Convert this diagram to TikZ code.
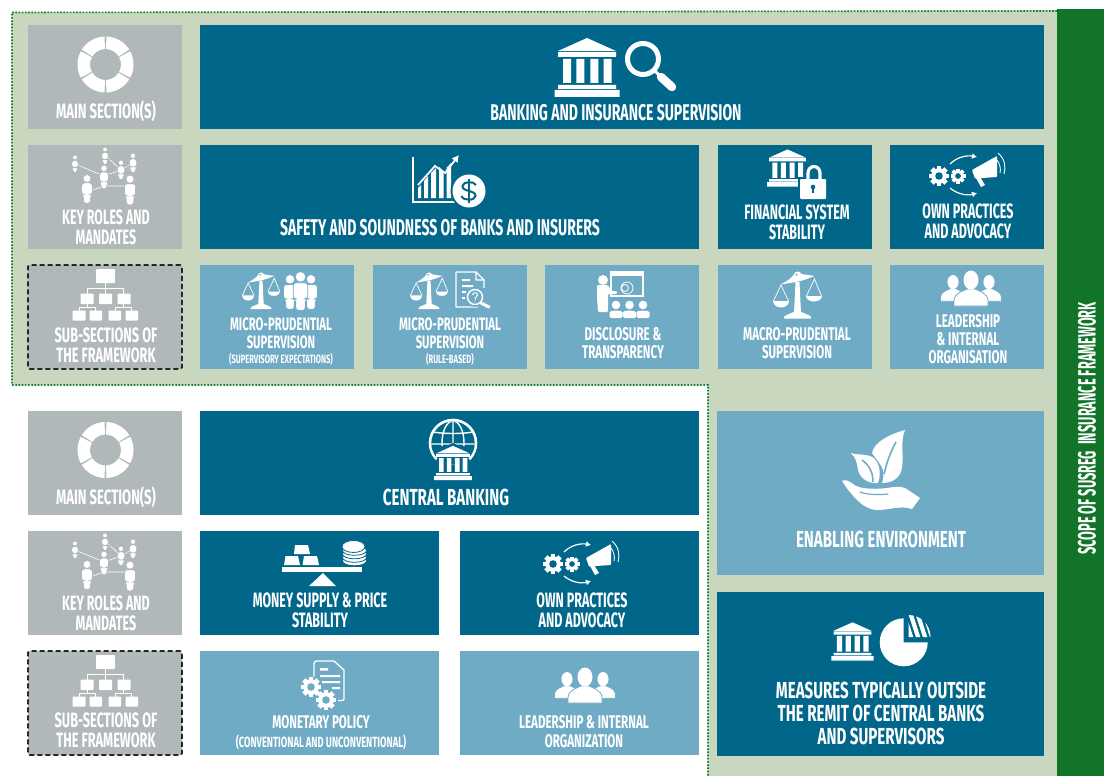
\documentclass[tikz,border=0pt]{standalone}
\usepackage{fontspec}
\usetikzlibrary{arrows.meta}
\newfontfamily\lf[FakeStretch=0.63]{Fira Sans}
\newfontfamily\lfa[FakeStretch=0.615]{Fira Sans}
\newfontfamily\lfb[FakeStretch=0.6]{Fira Sans}
\newfontfamily\lfc[FakeStretch=0.65]{Fira Sans}
\newfontfamily\lfn[FakeStretch=0.51]{Fira Sans}
\definecolor{dk}{HTML}{00678B}
\definecolor{lt}{HTML}{70ABC6}
\definecolor{gy}{HTML}{B1B8BA}
\definecolor{bgg}{HTML}{C9D7BF}
\definecolor{barg}{HTML}{117428}
\definecolor{dotg}{HTML}{128033}
\colorlet{bgc}{lt}
\tikzset{
  boxdk/.style={fill=dk,inner sep=0pt,outer sep=0pt},
  boxlt/.style={fill=lt,inner sep=0pt,outer sep=0pt},
  boxgy/.style={fill=gy,inner sep=0pt,outer sep=0pt},
  boxds/.style={fill=gy,draw=black!85,dash pattern=on 5pt off 3pt,line width=1.6pt,rounded corners=1.5pt,inner sep=0pt,outer sep=0pt},
  lbl/.style={text=white,align=center,inner sep=0pt,anchor=base},
  halo/.style={fill=white,draw=bgc,line width=.8pt},
}
\newcommand\bx[6]{\node[#1,minimum width={(#5-#3)*1pt},minimum height={(#6-#4)*1pt}] (#2) at ({(#3+#5)/2},{(#4+#6)/2}) {};}
\newcommand\lbl[7][\lf]{\node[lbl,font=#1\bfseries\fontsize{#5}{#6}\selectfont] (#2) at (#3,#4) {#7};}
\newcommand\icon[5]{\begin{scope}[shift={(#1,#2)},scale=#3]\colorlet{bgc}{#4}#5\end{scope}}
% ---- icon parts
\newcommand\icring{\foreach \a in {0,60,...,300}{\fill[white] (\a+32:28) arc[start angle=\a+32,end angle=\a+88,radius=28] -- (\a+88:15.5) arc[start angle=\a+88,end angle=\a+32,radius=15.5] -- cycle;}}
\newcommand\person[3]{\begin{scope}[shift={(#1,#2)},scale=#3/40]
  \path[halo] (0,-14.5) circle[radius=5.5];
  \path[halo,rounded corners=3pt] (-7.5,-8.5) -- (7.5,-8.5) -- (7.5,8) -- (5,8) -- (5,20) -- (-5,20) -- (-5,8) -- (-7.5,8) -- cycle;
\end{scope}}
\newcommand\icnet{\draw[white,line width=.6pt] (-30,-14) -- (-1,-2) (0,-23) -- (16,-8) -- (28,-15) (-1,-2) -- (16,-8) (-18,14) -- (-1,8) -- (25,8);
  \person{-30}{-14}{18}\person{0}{-22}{18}\person{28}{-15}{20}\person{16}{-8}{20}\person{-1}{-1}{24}\person{-18}{11}{29}\person{25}{12}{30}}
\newcommand\icorg{\draw[white,line width=.6pt] (0,-13) -- (0,-8) (-18,-8) -- (18,-8) (-18,-8) -- (-18,-2) (0,-8) -- (0,-2) (18,-8) -- (18,-2)
   (-18,8) -- (-18,11) (-26,11) -- (-10,11) (-26,11) -- (-26,15) (-10,11) -- (-10,15) (18,8) -- (18,11) (10,11) -- (26,11) (10,11) -- (10,15) (26,11) -- (26,15);
  \fill[white,rounded corners=.8pt] (-9.5,-27) rectangle (9.5,-13)
   (-25,-2.5) rectangle (-12,8) (-6.5,-2.5) rectangle (6.5,8) (12,-2.5) rectangle (25,8)
   (-33,14.5) rectangle (-20,24.5) (-16,14.5) rectangle (-3.5,24.5) (3,14.5) rectangle (15.5,24.5) (20,14.5) rectangle (32.5,24.5);}
\newcommand\icscale{\fill[white] (-2,-12) -- (2,-12) -- (3.5,19) -- (-3.5,19) -- cycle;
  \fill[white,rounded corners=1pt] (-4,18) -- (4,18) -- (13,22) -- (14,24.5) -- (-14,24.5) -- (-13,22) -- cycle;
  \fill[white] (-17,-9.5) .. controls (-10,-13) and (-6,-16) .. (-4,-19) .. controls (-2,-24) and (2,-23) .. (4,-20) -- (17,-18) .. controls (10,-15) and (4,-13) .. (-2,-12) .. controls (-8,-11) and (-12,-10) .. cycle;
  \fill[bgc] (-1,-19.5) circle[radius=1.2];
  \draw[white,line width=.7pt] (-24,7) -- (-16.5,-9) -- (-9,7) (9,2) -- (17,-15) -- (24,2);
  \fill[white] (-24.5,7) arc[start angle=180,end angle=0,x radius=8,y radius=6.5] -- cycle;
  \fill[white] (8.5,2) arc[start angle=180,end angle=0,x radius=8,y radius=5.5] -- cycle;}
\newcommand\icbank{\fill[white] (-29,-16.5) -- (0,-29.5) -- (29,-16.5) -- cycle;
  \fill[white] (-29,-15.5) rectangle (29,-10.5)
   (-24,-8.5) rectangle (-16,15.5) (-10.7,-8.5) rectangle (-2.7,15.5) (3.3,-8.5) rectangle (11.3,15.5) (16.7,-8.5) rectangle (24.7,15.5)
   (-29,17.5) rectangle (29,21.5) (-32.5,22.5) rectangle (32.5,29.5);}
\newcommand\gear[3]{\begin{scope}[shift={(#1,#2)},scale=#3/10]
  \foreach \a in {0,45,90,135}{\fill[white,rotate=\a] (-2.4,-10) rectangle (2.4,10);}
  \fill[white] (0,0) circle[radius=7.8]; \fill[bgc] (0,0) circle[radius=3.8];\end{scope}}
\newcommand\icown{\gear{-28}{1}{10}\gear{-9}{1}{7.5}
  \draw[white,line width=1.2pt,-{Latex[length=5pt,width=6pt]}] (-17,-11) .. controls (-10,-18) and (0,-20) .. (10,-18);
  \draw[white,line width=1.2pt,-{Latex[length=5pt,width=6pt]}] (-17,13) .. controls (-10,19) and (0,21) .. (10,18);
  \fill[white,rounded corners=.8pt] (5,-5) -- (30,-19) -- (30,2) -- (8,3.5) -- cycle;
  \fill[white] (9,3) -- (13,2) -- (18,10) -- (14,12) -- cycle;
  \draw[white,line width=.9pt] (31,-22) .. controls (38,-16) and (39,-8) .. (37,-1);
  \draw[white,line width=.9pt] (30,-15) .. controls (33,-11) and (34,-6) .. (33,-2);}
\newcommand\bust{\path[halo] (-17,18) -- (-17,13) .. controls (-17,5) and (-8,3) .. (-4,1) -- (4,1) .. controls (8,3) and (17,5) .. (17,13) -- (17,18) -- cycle;
  \fill[white] (0,-8) ellipse[x radius=7.5,y radius=9.5];}
\newcommand\ictrio{\begin{scope}[shift={(-18,0)},scale=.74]\bust\end{scope}\begin{scope}[shift={(18,0)},scale=.74]\bust\end{scope}
  \fill[bgc] (-8.5,2) -- (8.5,2) -- (20,20) -- (-20,20) -- cycle; \begin{scope}\bust\end{scope}}
\newcommand\icmag{\draw[white,line width=5pt] (0,0) circle[radius=15.5];
  \draw[white,line width=3pt] (11,11) -- (18,18);
  \draw[white,line width=8.5pt,line cap=round] (18,18) -- (29,28);}
\begin{document}
\begin{tikzpicture}[x=1pt,y=-1pt]
\useasboundingbox (0,0) rectangle (1104,776);
% background zones
\fill[bgg] (12,12) -- (1057,10) -- (1057,776) -- (708,776) -- (708,385) -- (12,385) -- cycle;
\fill[barg] (1057,9) rectangle (1104,776);
\draw[dotg,line width=1.6pt,dash pattern=on 1.6pt off 1.6pt] (1057,11) -- (12,12.5) -- (12,385) -- (708,385) -- (708,776);
% boxes
\bx{boxgy}{g1}{28}{25}{182}{129}
\bx{boxdk}{bank}{200}{25}{1044}{129}
\bx{boxgy}{g2}{28}{145}{182}{249}
\bx{boxdk}{safe}{200}{145}{699}{249}
\bx{boxdk}{fin}{718}{145}{872}{249}
\bx{boxdk}{own}{890}{145}{1044}{249}
\bx{boxds}{g3}{28}{265}{182}{369}
\bx{boxlt}{m1}{200}{265}{354}{369}
\bx{boxlt}{m2}{373}{265}{527}{369}
\bx{boxlt}{dis}{545}{265}{699}{369}
\bx{boxlt}{mac}{718}{265}{872}{369}
\bx{boxlt}{lead}{890}{265}{1044}{369}
\bx{boxgy}{g4}{28}{411}{182}{515}
\bx{boxdk}{cb}{200}{411}{699}{515}
\bx{boxgy}{g5}{28}{531}{182}{635}
\bx{boxdk}{mon}{200}{531}{439}{635}
\bx{boxdk}{own2}{460}{531}{699}{635}
\bx{boxds}{g6}{28}{651}{182}{755}
\bx{boxlt}{pol}{200}{651}{439}{755}
\bx{boxlt}{lead2}{460}{651}{699}{755}
\bx{boxlt}{env}{717}{411}{1044}{575}
\bx{boxdk}{out}{717}{592}{1044}{756}
% labels (y = baseline of the last line)
\lbl{t1}{106}{118}{20.8}{20}{MAIN SECTION(S)}
\lbl[\lfb]{t2}{106}{244}{20.8}{20}{KEY ROLES AND\\MANDATES}
\lbl[\lfa]{t3}{106}{362}{20.8}{20}{SUB-SECTIONS OF\\THE FRAMEWORK}
\lbl[\lfa]{t4}{616}{121}{22.8}{20}{BANKING AND INSURANCE SUPERVISION}
\lbl[\lfa]{t5}{440}{235}{22.8}{20}{SAFETY AND SOUNDNESS OF BANKS AND INSURERS}
\lbl[\lfb]{t6}{797}{239}{20.8}{19.5}{FINANCIAL SYSTEM\\STABILITY}
\lbl[\lfb]{t7}{968}{238}{20.8}{20}{OWN PRACTICES\\AND ADVOCACY}
\lbl{t8}{281}{348}{18}{17.5}{MICRO-PRUDENTIAL\\SUPERVISION}
\lbl{t8b}{281}{363}{12}{12}{(SUPERVISORY EXPECTATIONS)}
\lbl{t9}{450}{348}{18}{17.5}{MICRO-PRUDENTIAL\\SUPERVISION}
\lbl{t9b}{450}{363}{12}{12}{(RULE-BASED)}
\lbl{t10}{623}{358}{18.4}{18}{DISCLOSURE \&\\TRANSPARENCY}
\lbl{t11}{797}{358}{18.4}{18}{MACRO-PRUDENTIAL\\SUPERVISION}
\lbl{t12}{968}{363}{18.4}{18}{LEADERSHIP\\\& INTERNAL\\ORGANISATION}
\lbl{t13}{106}{504}{20.8}{20}{MAIN SECTION(S)}
\lbl[\lfb]{t14}{106}{630}{20.8}{20}{KEY ROLES AND\\MANDATES}
\lbl[\lfa]{t15}{106}{747}{20.8}{20}{SUB-SECTIONS OF\\THE FRAMEWORK}
\lbl[\lfc]{t16}{446}{505}{23.2}{20}{CENTRAL BANKING}
\lbl[\lfb]{t17}{320}{627}{20.8}{20}{MONEY SUPPLY \& PRICE\\STABILITY}
\lbl[\lfb]{t18}{582}{627}{20.8}{20}{OWN PRACTICES\\AND ADVOCACY}
\lbl{t19}{321}{728}{18.4}{18}{MONETARY POLICY}
\lbl{t19b}{321}{747}{14.8}{14}{(CONVENTIONAL AND UNCONVENTIONAL)}
\lbl{t20}{584}{747}{18.4}{19}{LEADERSHIP \& INTERNAL\\ORGANIZATION}
\lbl[\lfc]{t21}{881}{547}{23.2}{20}{ENABLING ENVIRONMENT}
\lbl[\lfc]{t22}{881}{744}{23.2}{23}{MEASURES TYPICALLY OUTSIDE\\THE REMIT OF CENTRAL BANKS\\AND SUPERVISORS}
\node[lbl,rotate=90,font=\lfn\bfseries\fontsize{25}{25}\selectfont] (t23) at (1095.7,428.5) {SCOPE OF SUSREG\ \ INSURANCE FRAMEWORK};
% gray-box icons
\icon{105.5}{64.5}{1}{gy}{\icring}
\icon{105.5}{450}{1}{gy}{\icring}
\icon{105}{178}{1}{gy}{\icnet}
\icon{105}{564}{1}{gy}{\icnet}
\icon{105.5}{296}{1}{gy}{\icorg}
\icon{105.5}{682}{1}{gy}{\icorg}
% bank + magnifier
\icon{587}{67.5}{1}{dk}{\icbank}
\icon{643}{59}{1}{dk}{\icmag}
% chart + dollar
\begin{scope}
 \draw[white,line width=1.6pt] (413,157) -- (413,202) -- (457,202);
 \fill[white] (418,188) -- (421,185) -- (421,198) -- (418,198) -- cycle
  (424,181) -- (428,176) -- (428,198) -- (424,198) -- cycle
  (431,173) -- (436,168) -- (436,198) -- (431,198) -- cycle
  (439,167) -- (443.5,171) -- (443.5,198) -- (439,198) -- cycle
  (446.5,168) -- (451,163) -- (451,198) -- (446.5,198) -- cycle;
 \draw[white,line width=1.8pt,-{Latex[length=7pt,width=8pt]}] (418,185) -- (435,166) -- (445,173) -- (459,155);
 \fill[dk] (469,191) circle[radius=18.5];
 \fill[white] (469,191) circle[radius=16.5];
 \draw[dk,line width=2pt] (476,185) .. controls (474,181) and (463,181) .. (462.5,186) .. controls (462,192) and (476,190) .. (475.5,196) .. controls (475,201) and (463,201) .. (461.5,196);
 \draw[dk,line width=1.8pt] (469,179) -- (469,203);
\end{scope}
% financial stability
\icon{787.5}{168}{.63}{dk}{\icbank}
\draw[dk,line width=7pt] (808,181) -- (808,173) arc[start angle=180,end angle=360,x radius=6,y radius=6.5] -- (820,181);
\fill[dk] (797.5,177) rectangle (828.5,201);
\draw[white,line width=3.2pt] (808,181) -- (808,173) arc[start angle=180,end angle=360,x radius=6,y radius=6.5] -- (820,181);
\fill[white,rounded corners=1pt] (800,179) rectangle (826,199);
\fill[dk] (813,187) circle[radius=2.3]; \fill[dk] (811.9,187) rectangle (814.1,193);
% own practices
\icon{967}{175}{1}{dk}{\icown}
\icon{581}{563}{1}{dk}{\icown}
% micro 1
\icon{261}{290}{.78}{lt}{\icscale}
\person{290}{292}{35}\person{311}{292}{35}\person{300.5}{291}{39}
% micro 2
\icon{429}{290}{.78}{lt}{\icscale}
\draw[white,line width=1.3pt,line join=round] (456,272) -- (476,272) -- (484,280) -- (484,288) (476,272) -- (476,280) -- (484,280) (456,272) -- (456,307) -- (478,307);
\fill[white] (462,279) rectangle (470,281) (462,285) rectangle (473,287) (462,291) rectangle (466,293) (462,297) rectangle (466,299);
\fill[lt] (475,297) circle[radius=10];
\draw[white,line width=1.4pt] (475,297) circle[radius=7.5];
\draw[white,line width=1pt] (472.5,295) .. controls (473,292) and (478,292) .. (477.5,295) .. controls (477,297) and (475,297) .. (475,299.5);
\fill[white] (475,301) circle[radius=.7];
\draw[white,line width=3pt,line cap=round] (481,303) -- (489,307);
% disclosure
\draw[white,line width=2.4pt] (611,272) rectangle (643,296);
\fill[white] (611,271) rectangle (644,276);
\draw[white,line width=.8pt] (627,288) circle[radius=6] (625,288) circle[radius=3.5];
\fill[white] (603,280) circle[radius=5];
\fill[white,rounded corners=1.2pt] (597,285) -- (608,285) -- (611,291) -- (617,291) -- (617,294) -- (608,294) -- (608,312) -- (598,312) -- (597,297) -- cycle;
\foreach \xx in {616,629.5,643}{\fill[white] (\xx,305) circle[radius=4.3];
  \fill[white,rounded corners=1.5pt] (\xx-6.5,318) -- (\xx-6.5,314) .. controls (\xx-6.5,310) and (\xx+6.5,310) .. (\xx+6.5,314) -- (\xx+6.5,318) -- cycle;}
% macro
\icon{797.5}{294}{1}{lt}{\icscale}
% trios
\icon{971}{288}{1}{lt}{\ictrio}
\icon{585}{685}{1}{lt}{\ictrio}
% central bank globe
\draw[white,line width=2.6pt] (453,443) ++(135:23) arc[start angle=135,end angle=405,radius=23];
\begin{scope}
 \clip (453,443) circle[radius=21.7];
 \draw[white,line width=1.4pt] (453,443) ellipse[x radius=11,y radius=22] (453,421) -- (453,445) (430,444) -- (476,444) (433,432) .. controls (444,434) and (462,434) .. (473,432);
 \fill[dk] (430,446) rectangle (476,481);
 \fill[dk] (453,443) -- (470,451) -- (436,451) -- cycle;
\end{scope}
\icon{453}{463}{.58}{dk}{\icbank}
% money balance
\fill[white] (282,567) rectangle (362,572);
\fill[white] (309,586) -- (323,573) -- (336,586) -- cycle;
\fill[white] (295,545) -- (308,545) -- (310,554) -- (294,554) -- cycle
  (285.5,556) -- (298,556) -- (300,565) -- (284,565) -- cycle
  (304,556) -- (317,556) -- (319,565) -- (302.5,565) -- cycle;
\colorlet{bgc}{dk}
\foreach \yy in {561,557.5,554,550.5}{\path[halo] (354.5,\yy) ellipse[x radius=12,y radius=4.8];}
\path[halo] (353.5,546.5) ellipse[x radius=11.5,y radius=6];
\colorlet{bgc}{lt}
% monetary policy
\draw[white,line width=1.3pt,line join=round] (314,678) -- (314,664) .. controls (314,662) and (315,661) .. (317,661) -- (334,661) -- (344,670) -- (344,699) .. controls (344,700) and (343,700.5) .. (342,700.5) -- (338,700.5);
\fill[white] (320,668) rectangle (328,670.5) (320,675) rectangle (340,677) (322,681) rectangle (340,683) (332,687) rectangle (340,689);
\fill[lt] (311,687) circle[radius=11]; \fill[lt] (326,700) circle[radius=11];
\gear{311}{687}{10}\gear{326}{700}{10}
\fill[lt] (311,687) circle[radius=2.5]; \fill[lt] (326,700) circle[radius=2.5];
% leaf and hand
\fill[white] (905,430) .. controls (890,434) and (874,442) .. (872,453) .. controls (875,458) and (880,462) .. (883,470) .. controls (884,476) and (883,480) .. (882,483) .. controls (892,483) and (901,478) .. (902,467) .. controls (904,455) and (900,442) .. (905,430) -- cycle;
\draw[lt,line width=1.6pt] (884,474) .. controls (887,462) and (890,453) .. (896,442);
\fill[white] (851,453) .. controls (858,456) and (872,452) .. (877,462) .. controls (881,470) and (880,478) .. (878,483) .. controls (868,484) and (860,478) .. (858,470) .. controls (857,463) and (856,458) .. (851,453) -- cycle;
\draw[lt,line width=1.5pt] (873,482) .. controls (873,472) and (869,465) .. (862,460);
\fill[white] (842,481) .. controls (845,479) and (849,481) .. (853,484) .. controls (857,488) and (870,490) .. (887,488) .. controls (893,487) and (900,486) .. (905,488) -- (920,498) -- (912,509) .. controls (900,505) and (890,510) .. (877,510) .. controls (865,510) and (853,498) .. (842,481) -- cycle;
\draw[lt,line width=1.2pt,line cap=round] (860,492) .. controls (868,495) and (880,495) .. (888,494);
% pie
\icon{852.5}{641.5}{.65}{dk}{\icbank}
\fill[white] (903.7,642.3) -- +(0:24) arc[start angle=0,end angle=270,radius=24] -- cycle;
\begin{scope}
 \clip (908.5,637) -- +(0:22) arc[start angle=0,end angle=-90,radius=22] -- cycle;
 \foreach \xx in {903,910,917,924}{\draw[white,line width=4.2pt] (\xx,612) -- (\xx+9,640);}
\end{scope}
\end{tikzpicture}
\end{document}
